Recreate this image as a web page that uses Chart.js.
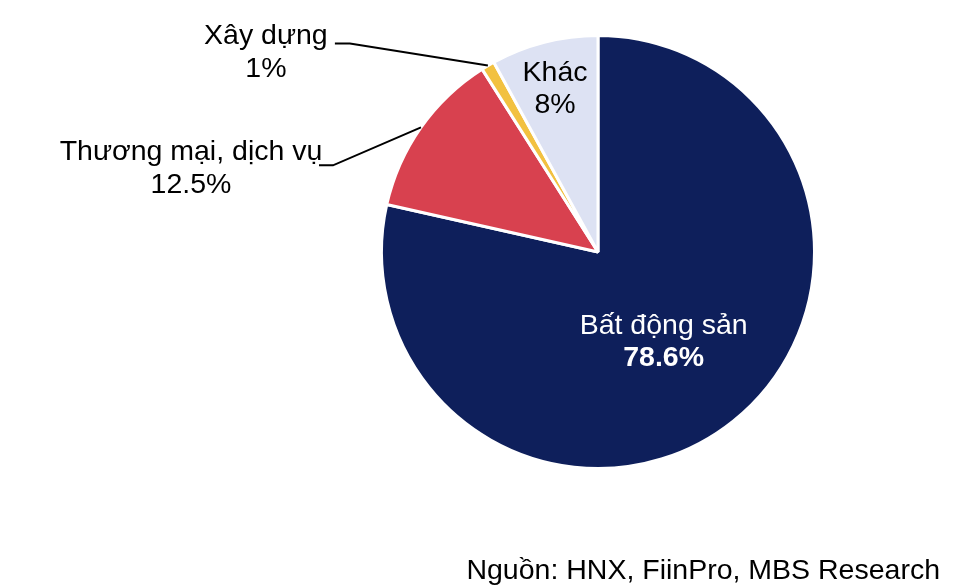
<!DOCTYPE html>
<html>
<head>
<meta charset="utf-8">
<script src="https://cdn.jsdelivr.net/npm/chart.js@4"></script>
<style>
  html, body { margin: 0; padding: 0; background: #ffffff; }
  #wrap { position: relative; width: 976px; height: 588px; }
</style>
</head>
<body>
<div id="wrap"><canvas id="pieChart" width="976" height="588"></canvas></div>
<script>
// Data
const categories = ['Bất động sản', 'Thương mại, dịch vụ', 'Xây dựng', 'Khác'];
const shares = [78.6, 12.5, 1, 8];
const valueLabels = ['78.6%', '12.5%', '1%', '8%'];
const sliceColors = ['#0e1f5b', '#d8414f', '#f2c140', '#dde2f3'];
const sourceNote = 'Nguồn: HNX, FiinPro, MBS Research';

const FONT = '"Liberation Sans", Arial, sans-serif';
const LABEL_FONT = '28.5px ' + FONT;

// Label placement per slice: inside labels sit on the arc at a radius ratio,
// outside labels get a leader line from the arc edge to an elbow.
const labelStyle = [
  { inside: true, r: 0.5, dx: -2, dy: 6, color: '#ffffff', boldValue: true },
  { inside: false, elbow: [-88, 38], stub: -14, textDx: -142, textDy: -13, color: '#000000' },
  { inside: false, elbow: [-138, -22], stub: -15, textDx: -84, textDy: -7, color: '#000000' },
  { inside: true, r: 0.78, dx: -1, dy: 1, color: '#000000', boldValue: false }
];

const pieLabels = {
  id: 'pieLabels',
  afterDatasetsDraw(chart) {
    const ctx = chart.ctx;
    const meta = chart.getDatasetMeta(0);
    ctx.save();
    ctx.textAlign = 'center';
    ctx.textBaseline = 'middle';
    meta.data.forEach((arc, i) => {
      const s = labelStyle[i];
      const mid = (arc.startAngle + arc.endAngle) / 2;
      const cx = arc.x, cy = arc.y, R = arc.outerRadius;
      if (s.inside) {
        const x = cx + Math.cos(mid) * R * s.r + s.dx;
        const y = cy + Math.sin(mid) * R * s.r + s.dy;
        ctx.fillStyle = s.color;
        ctx.font = LABEL_FONT;
        ctx.fillText(categories[i], x, y - 16);
        ctx.font = (s.boldValue ? 'bold ' : '') + LABEL_FONT;
        ctx.fillText(valueLabels[i], x, y + 16);
      } else {
        const ex = cx + Math.cos(mid) * R;
        const ey = cy + Math.sin(mid) * R;
        const kx = ex + s.elbow[0];
        const ky = ey + s.elbow[1];
        ctx.strokeStyle = '#000000';
        ctx.lineWidth = 2;
        ctx.beginPath();
        ctx.moveTo(ex, ey);
        ctx.lineTo(kx, ky);
        ctx.lineTo(kx + s.stub, ky);
        ctx.stroke();
        const tx = kx + s.textDx;
        const ty = ky + s.textDy;
        ctx.fillStyle = s.color;
        ctx.font = LABEL_FONT;
        ctx.fillText(categories[i], tx, ty);
        ctx.fillText(valueLabels[i], tx, ty + 33);
      }
    });
    // source note
    ctx.font = '28.5px ' + FONT;
    ctx.textAlign = 'right';
    ctx.fillStyle = '#000000';
    ctx.fillText(sourceNote, 940, 571);
    ctx.restore();
  }
};

const ctxPie = document.getElementById('pieChart').getContext('2d');
new Chart(ctxPie, {
  type: 'pie',
  data: {
    labels: categories,
    datasets: [{
      data: shares,
      backgroundColor: sliceColors,
      borderColor: '#ffffff',
      borderWidth: 3,
      hoverOffset: 0
    }]
  },
  options: {
    responsive: false,
    animation: false,
    layout: {
      padding: { left: 380, right: 160, top: 34, bottom: 118 }
    },
    plugins: {
      legend: { display: false },
      tooltip: { enabled: false }
    }
  },
  plugins: [pieLabels]
});
</script>
</body>
</html>
